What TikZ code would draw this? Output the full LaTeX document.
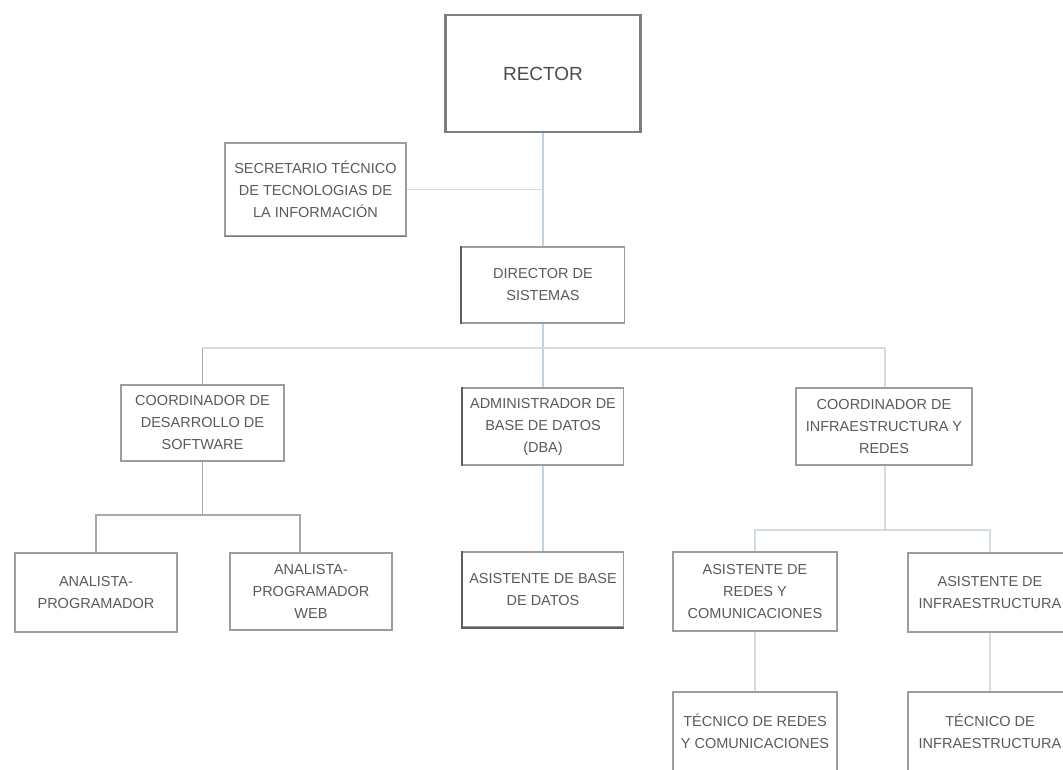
\documentclass[tikz,border=0pt]{standalone}
\usepackage{fontspec}
\setmainfont{Liberation Sans}
\usetikzlibrary{calc}
\definecolor{boxgray}{HTML}{9C9C9C}
\definecolor{edgedark}{HTML}{5E5E5E}
\definecolor{txtgray}{HTML}{5A5A5A}
\definecolor{linkblue}{HTML}{BCD3EA}
\definecolor{linkpale}{HTML}{D2DAE2}
\definecolor{linkgray}{HTML}{A8A8A8}
\newcommand\orgfont{\fontsize{14.5}{22}\selectfont}
\tikzset{
  box/.style={draw=boxgray, line width=1.1pt, fill=white, align=center,
    inner sep=0pt, text=txtgray, font=\orgfont,
    minimum width=#1, minimum height=78pt},
  box/.default=163pt,
  heavy/.style={draw=edgedark, line width=2pt},
  link/.style={draw=linkpale, line width=1.1pt},
  linkb/.style={draw=linkblue, line width=1.1pt},
  linkg/.style={draw=linkgray, line width=1.1pt}
}
\begin{document}
\begin{tikzpicture}[x=1pt,y=-1pt]
\clip (0,0) rectangle (1063,769);
\fill[white] (0,0) rectangle (1063,769);

% branch points of the connectors
\coordinate (busL) at (202.5,348);
\coordinate (busR) at (885,348);
\coordinate (swbus) at (202.5,515);
\coordinate (infbus) at (885,530);

% top level
\node[box=195pt, minimum height=117pt, draw=edgedark!80, line width=2.6pt,
      font=\fontsize{19}{22}\selectfont, text=txtgray!85!black] (rector) at (543,73.5) {RECTOR};
\node[box=181pt, minimum height=93pt] (sec) at (315.5,189.5)
  {SECRETARIO TÉCNICO\\DE TECNOLOGIAS DE\\LA INFORMACIÓN};
\node[box=163pt, minimum height=76pt] (dir) at (543,285) {DIRECTOR DE\\SISTEMAS};

% second level
\node[box=163pt, minimum height=76pt] (cds) at (202.5,423)
  {COORDINADOR DE\\DESARROLLO DE\\SOFTWARE};
\node[box=161pt, minimum height=77pt] (dba) at (543,426.5)
  {ADMINISTRADOR DE\\BASE DE DATOS\\(DBA)};
\node[box=176pt, minimum height=77pt] (cir) at (884,426.5)
  {COORDINADOR DE\\INFRAESTRUCTURA Y\\REDES};

% third level
\node[box=162pt, minimum height=79pt] (ap1) at (96,592.5) {ANALISTA-\\PROGRAMADOR};
\node[box=162pt, minimum height=77pt] (ap2) at (311,591.5) {ANALISTA-\\PROGRAMADOR\\WEB};
\node[box=161pt, minimum height=75pt] (abd) at (543,589.5) {ASISTENTE DE BASE\\DE DATOS};
\node[box=164pt, minimum height=79pt] (ar) at (755,591.5)
  {ASISTENTE DE\\REDES Y\\COMUNICACIONES};
\node[box=164pt, minimum height=79pt] (ai) at (990,592.5) {ASISTENTE DE\\INFRAESTRUCTURA};

% fourth level
\node[box=164pt, minimum height=79pt] (tr) at (755,731.5)
  {TÉCNICO DE REDES\\Y COMUNICACIONES};
\node[box=164pt, minimum height=79pt] (ti) at (990,731.5) {TÉCNICO DE\\INFRAESTRUCTURA};

% darker box edges
\draw[heavy] (dir.north west) -- (dir.south west);
\draw[heavy] (dba.north west) -- (dba.south west);
\draw[heavy] (abd.north west) -- (abd.south west) -- (abd.south east);
\draw[heavy, draw=boxgray!80!black, line width=1.5pt] (sec.south west) -- (sec.south east);

% connectors
\draw[linkb] (rector.south) -- (dir.north);
\draw[link] (sec.east) -- (rector.south |- sec.east);
\draw[linkb] (dir.south) -- (dir.south |- busL);
\draw[link] (busL) -- (busR);
\draw[linkg] (busL) -- (cds.north);
\draw[linkb] (dba.north) -- (dba.north |- busL);
\draw[link] (busR) -- (busR |- cir.north);

\draw[linkg] (cds.south) -- (swbus);
\draw[linkg] (ap1.north) |- (swbus) -| ($(ap2.north)+(-11,0)$);

\draw[linkb] (dba.south) -- (abd.north);

\draw[link] (cir.south -| infbus) -- (infbus);
\draw[link] (ar.north) |- (infbus) -| (ai.north);
\draw[link] (ar.south) -- (tr.north);
\draw[link] (ai.south) -- (ti.north);
\end{tikzpicture}
\end{document}
